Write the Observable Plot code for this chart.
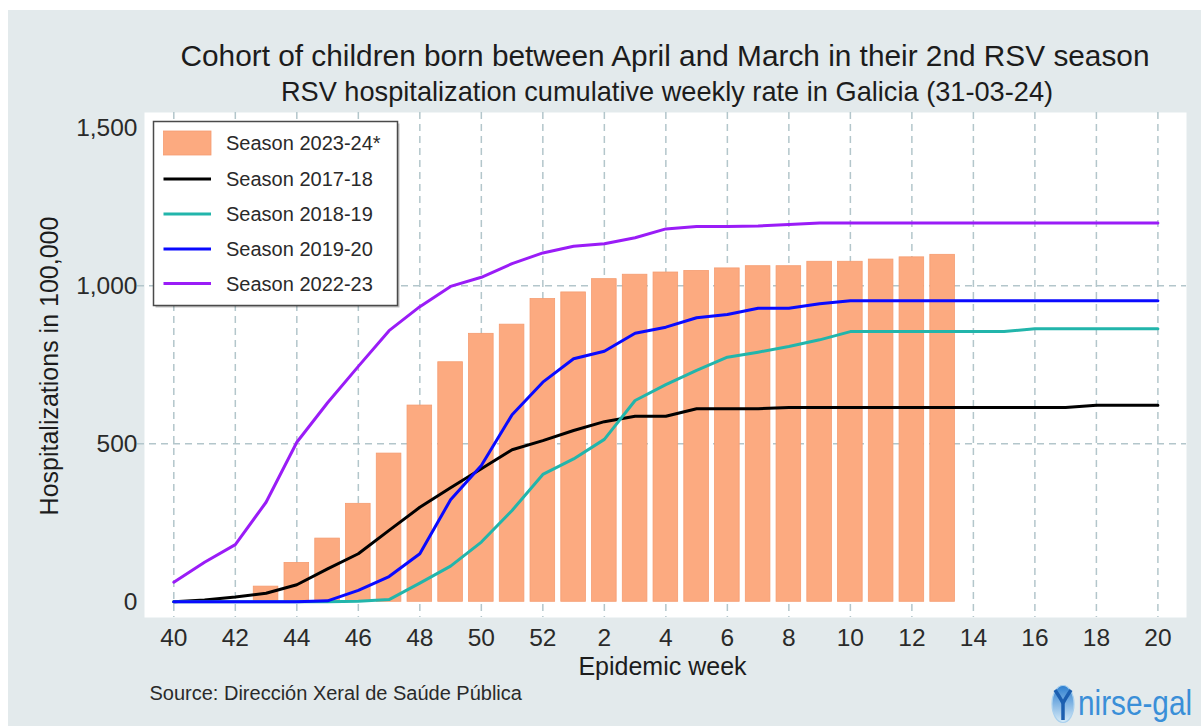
<!DOCTYPE html>
<html>
<head>
<meta charset="utf-8">
<script src="https://cdn.jsdelivr.net/npm/d3@7"></script>
<script src="https://cdn.jsdelivr.net/npm/@observablehq/plot@0.6"></script>
<style>
  html, body { margin: 0; padding: 0; background: #ffffff; }
  #wrap { position: relative; width: 1201px; height: 726px; overflow: hidden; background: #ffffff; font-family: "Liberation Sans", Arial, sans-serif; }
  #bg { position: absolute; left: 8px; top: 10px; right: 0; bottom: 0; background: #e3eaec; }
  #chart { position: absolute; left: 0; top: 0; }
  #overlay { position: absolute; left: 0; top: 0; pointer-events: none; }
</style>
</head>
<body>
<div id="wrap">
  <div id="bg"></div>
  <div id="chart"></div>
  <svg id="overlay" width="1201" height="726"></svg>
</div>
<script>
// ---- Data ----
const weeks = [40,41,42,43,44,45,46,47,48,49,50,51,52,1,2,3,4,5,6,7,8,9,10,11,12,13,14,15,16,17,18,19,20];
const tickWeeks = [40,42,44,46,48,50,52,2,4,6,8,10,12,14,16,18,20];

const season2324 = [null,null,null,48,123,200,310,469,621,758,848,877,958,
  979,1021,1035,1042,1047,1055,1062,1062,1076,1076,1083,1090,1098,null,null,null,null,null,null,null];
const season1718 = [0,6,15,27,54,104,152,226,299,361,421,481,510,
  542,570,587,587,611,611,611,615,615,615,615,615,615,615,615,615,615,622,622,622];
const season1819 = [0,0,0,0,0,0,2,7,59,113,189,289,403,
  452,514,637,687,732,774,790,808,829,855,855,855,855,855,855,864,864,864,864,864];
const season1920 = [0,0,0,0,0,3,36,80,152,323,431,592,695,
  769,793,850,869,899,909,929,929,943,953,953,953,953,953,953,953,953,953,953,953];
const season2223 = [62,125,181,315,505,630,745,858,934,998,1027,1070,1104,
  1125,1133,1152,1180,1188,1188,1189,1194,1199,1199,1199,1199,1199,1199,1199,1199,1199,1199,1199,1199];

const barName = "Season 2023-24*";
const lineNames = ["Season 2017-18", "Season 2018-19", "Season 2019-20", "Season 2022-23"];
const lineValues = [season1718, season1819, season1920, season2223];
const lineColors = ["#000000", "#22b5ab", "#0a0aff", "#9a1cf7"];
const barColor = "#fcaa80";
const yTicks = [0, 500, 1000, 1500];
const yGrid = [500, 1000];

// ---- Build tables ----
const barData = season2324.map((v, i) => ({i, v})).filter(d => d.v != null);
const lineData = lineValues.map(vals => vals.map((v, i) => ({i, v})));
const tickIdx = tickWeeks.map(w => weeks.indexOf(w));

const gridColor = "#b3c6cb";
const fontFamily = "Liberation Sans, Arial, sans-serif";

const plot = Plot.plot({
  width: 1201,
  height: 726,
  marginLeft: 144,
  marginRight: 15,
  marginTop: 112,
  marginBottom: 109,
  style: {background: "transparent", fontFamily, fontSize: "24.5px", color: "#2a2a2a", overflow: "visible"},
  x: {type: "linear", domain: [-0.953, 32.93], axis: null},
  y: {domain: [-49.7, 1548.4], axis: null},
  marks: [
    Plot.frame({fill: "white", stroke: null}),
    Plot.ruleX(tickIdx, {x: d => d, stroke: gridColor, strokeWidth: 1.5, strokeDasharray: "7,5", strokeOpacity: 1}),
    Plot.ruleY(yGrid, {y: d => d, stroke: gridColor, strokeWidth: 1.5, strokeDasharray: "7,5", strokeOpacity: 1, insetLeft: -7}),
    Plot.rect(barData, {x1: d => d.i - 0.4, x2: d => d.i + 0.4, y1: 0, y2: "v", fill: barColor, stroke: "#f59c70", strokeWidth: 0.8}),
    ...lineData.map((ld, k) => Plot.line(ld, {x: "i", y: "v", stroke: lineColors[k], strokeWidth: 3})),
    Plot.axisX(tickIdx, {tickSize: 0, tickPadding: 11, tickFormat: i => String(weeks[i]), fontSize: 24.5, label: null, fill: "#2a2a2a"}),
    Plot.axisY(yTicks, {tickSize: 0, tickPadding: 7, tickFormat: d3.format(","), fontSize: 24.5, label: null, fill: "#2a2a2a"})
  ]
});
document.getElementById("chart").appendChild(plot);

// ---- Overlay: titles, axis labels, legend, source, logo ----
const ov = d3.select("#overlay");
const txt = (x, y, s, size, opts = {}) => ov.append("text")
  .attr("x", x).attr("y", y).text(s)
  .attr("font-family", fontFamily).attr("font-size", size)
  .attr("text-anchor", opts.anchor || "middle")
  .attr("fill", opts.fill || "#1c1c1c")
  .attr("transform", opts.transform || null);

txt(665, 66, "Cohort of children born between April and March in their 2nd RSV season", 29.8);
txt(667, 101, "RSV hospitalization cumulative weekly rate in Galicia (31-03-24)", 27.2);
txt(662.5, 675, "Epidemic week", 25);
ov.append("text").text("Hospitalizations in 100,000")
  .attr("font-family", fontFamily).attr("font-size", 25).attr("fill", "#1c1c1c")
  .attr("text-anchor", "middle")
  .attr("transform", "translate(58,366) rotate(-90)");
txt(149.5, 700, "Source: Dirección Xeral de Saúde Pública", 20, {anchor: "start", fill: "#2a2a2a"});

// legend
const lg = ov.append("g");
lg.append("rect").attr("x", 154).attr("y", 122).attr("width", 244).attr("height", 184)
  .attr("fill", "#000").attr("opacity", 0.25).attr("transform", "translate(1.5,1.5)");
lg.append("rect").attr("x", 153.5).attr("y", 121.5).attr("width", 244).attr("height", 184)
  .attr("fill", "white").attr("stroke", "#4a4a4a").attr("stroke-width", 1.5);
const rowY = [143, 179, 214, 249, 283.5];
lg.append("rect").attr("x", 163.5).attr("y", rowY[0] - 12).attr("width", 47.5).attr("height", 24)
  .attr("fill", barColor).attr("stroke", "#f59c70").attr("stroke-width", 0.8);
lg.append("text").attr("x", 226).attr("y", rowY[0] + 7).text(barName)
  .attr("font-family", fontFamily).attr("font-size", 20).attr("fill", "#2a2a2a");
lineNames.forEach((n, k) => {
  const y = rowY[k + 1];
  lg.append("line").attr("x1", 163.5).attr("x2", 211).attr("y1", y).attr("y2", y)
    .attr("stroke", lineColors[k]).attr("stroke-width", 3);
  lg.append("text").attr("x", 226).attr("y", y + 7).text(n)
    .attr("font-family", fontFamily).attr("font-size", 20).attr("fill", "#2a2a2a");
});

// logo
const logo = ov.append("g");
const defs = ov.append("defs");
const grad = defs.append("linearGradient").attr("id", "lg1").attr("x1", 0).attr("y1", 0).attr("x2", 0).attr("y2", 1);
grad.append("stop").attr("offset", "0%").attr("stop-color", "#2d7fd0");
grad.append("stop").attr("offset", "100%").attr("stop-color", "#d8ecf8");
logo.append("ellipse").attr("cx", 1063).attr("cy", 704).attr("rx", 11).attr("ry", 18.5)
  .attr("fill", "url(#lg1)").attr("stroke", "#a9d0ee").attr("stroke-width", 1.2);
logo.append("path").attr("d", "M1055,690 Q1063,702 1063,704 Q1063,702 1071,690 M1063,704 L1063,720")
  .attr("fill", "none").attr("stroke", "#1c5fb0").attr("stroke-width", 3.5);
logo.append("text").attr("x", 0).attr("y", 0).text("nirse-gal")
  .attr("font-family", fontFamily).attr("font-size", 35).attr("fill", "#3a8fd8")
  .attr("transform", "translate(1078,715) scale(0.85,1)");
</script>
</body>
</html>
